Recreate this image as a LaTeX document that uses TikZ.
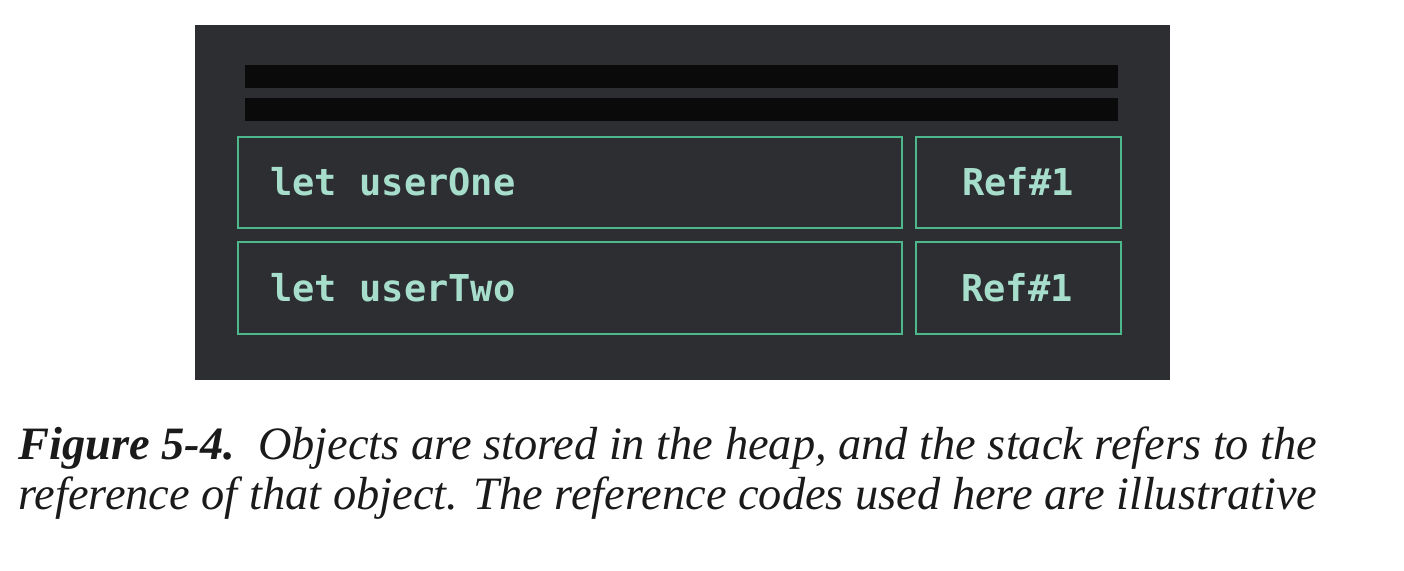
\documentclass[tikz,border=0pt]{standalone}
\usepackage{fontspec}
\setmainfont{Liberation Serif}
\newfontfamily\codefont{DejaVu Sans Mono}
\definecolor{panel}{HTML}{2C2E31}
\definecolor{barblack}{HTML}{0A0A0B}
\definecolor{boxgreen}{HTML}{4DB88C}
\definecolor{codetxt}{HTML}{A6DECB}
\definecolor{capt}{HTML}{1A1A1A}
\begin{document}
\begin{tikzpicture}[x=0.5pt,y=-0.5pt,
  cell/.style={draw=boxgreen,line width=1.25pt,fill=panel},
  codelbl/.style={font=\codefont\bfseries\fontsize{18.5}{20}\selectfont,text=codetxt,inner sep=0pt},
  captline/.style={font=\fontsize{23.2}{26}\selectfont\itshape,text=capt,anchor=base west,inner sep=0pt}]
\useasboundingbox (0,0) rectangle (1404,571);
\fill[white] (0,0) rectangle (1404,571);
\fill[panel] (195,25) rectangle (1170,380);
\fill[barblack] (245,65) rectangle (1118,88);
\fill[barblack] (245,98) rectangle (1118,121);
\draw[cell] (238,137) rectangle (902,228);
\draw[cell] (916,137) rectangle (1121,228);
\draw[cell] (238,242) rectangle (902,334);
\draw[cell] (916,242) rectangle (1121,334);
\node[codelbl,anchor=west] (v1) at (270,182) {let userOne};
\node[codelbl] (r1) at (1018,182) {Ref\#1};
\node[codelbl,anchor=west] (v2) at (270,288) {let userTwo};
\node[codelbl] (r2) at (1017,288) {Ref\#1};
\node[captline] (c1) at (18,460) {\textbf{Figure 5-4.}\ \ Objects are stored in the heap, and the stack refers to the};
\node[captline] (c2) at (18,510) {reference of that object. The reference codes used here are illustrative};
\end{tikzpicture}
\end{document}
